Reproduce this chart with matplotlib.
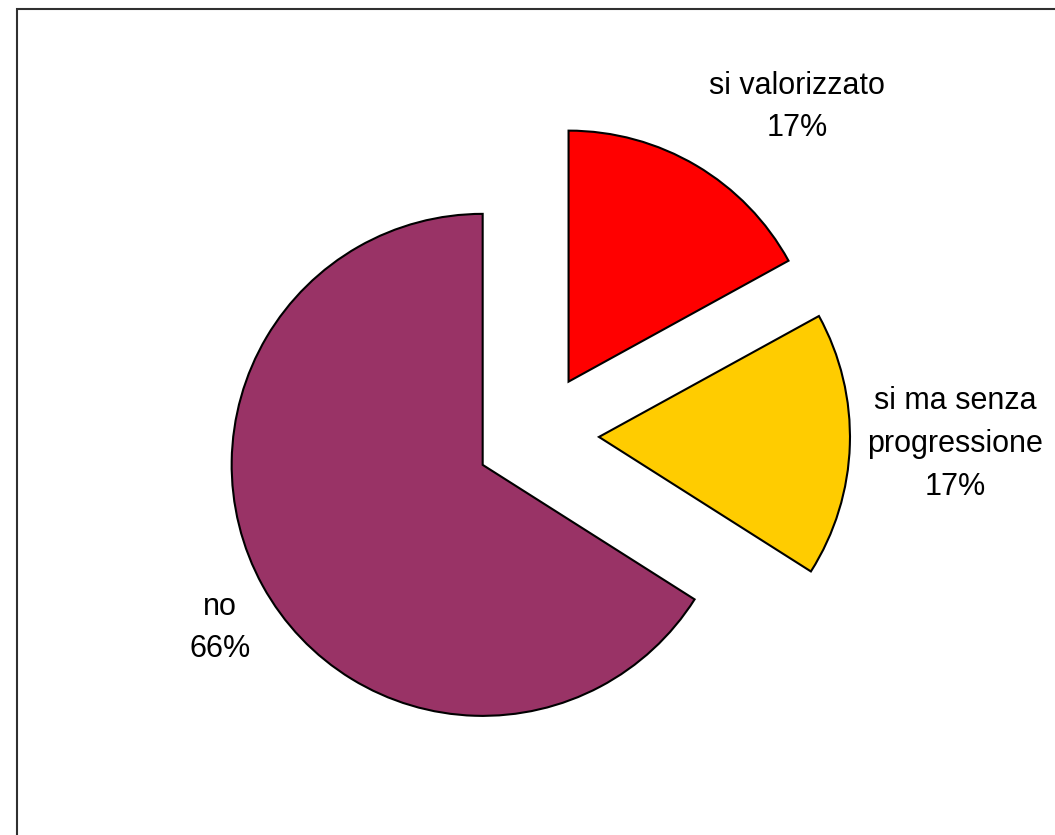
import matplotlib.pyplot as plt
from matplotlib.patches import Rectangle

plt.rcParams['font.family'] = ['Liberation Sans', 'DejaVu Sans']

# Slices go clockwise from the top
labels = ['si valorizzato', 'si ma senza\nprogressione', 'no']
values = [17, 17, 66]
colors = ['#FF0000', '#FFCC00', '#993366']

# where each label sits (pixel coords, origin bottom-left)
label_pos = [(797, 728), (955, 391), (220, 207)]

W, H = 1055, 835
R = 251
fig = plt.figure(figsize=(W / 100, H / 100), dpi=100)
ax = fig.add_axes([0, 0, 1, 1])

# explode is in data units, so scale it by the radius
ax.pie(values, colors=colors, startangle=90, counterclock=False,
       explode=[0.247 * R] * len(values), radius=R,
       center=(537, H - 435), frame=True,
       wedgeprops=dict(edgecolor='black', linewidth=1.5))
ax.set_xlim(0, W)
ax.set_ylim(0, H)
ax.set_aspect('equal')
ax.axis('off')

for lab, v, (x, y) in zip(labels, values, label_pos):
    ax.text(x, y, '%s\n%d%%' % (lab, v), ha='center', va='center',
            fontsize=22, linespacing=1.55, color='black')

# chart area border
fig.patches.append(Rectangle((16.5 / W, -0.1), 1.2, (H - 8.5) / H + 0.1,
                             transform=fig.transFigure, fill=False,
                             edgecolor='#303030', linewidth=1.5))

fig.savefig('out.png', dpi=100, facecolor='white')
